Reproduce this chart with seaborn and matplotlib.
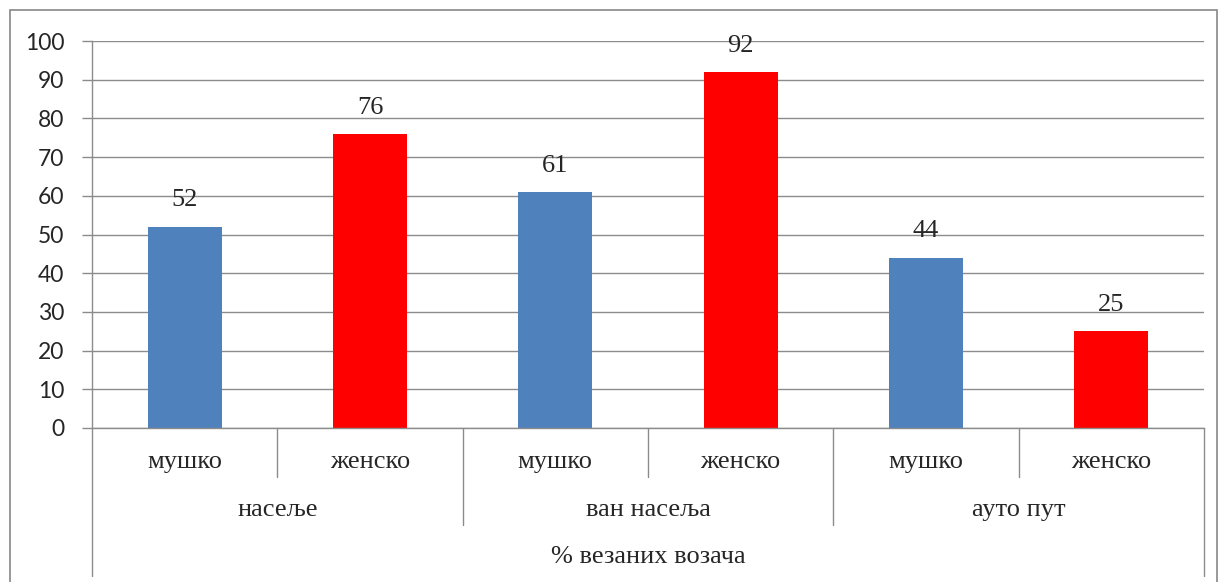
import numpy as np
import pandas as pd
import matplotlib
matplotlib.use("Agg")
import matplotlib.pyplot as plt
import seaborn as sns

# ─── Data ─────────────────────────────────────────────────────────────
groups = ["насеље", "ван насеља", "ауто пут"]
genders = ["мушко", "женско"]
values = [52, 76, 61, 92, 44, 25]
axis_title = "% везаних возача"
y_ticks = list(range(0, 101, 10))

COLORS = {"мушко": "#4F81BD", "женско": "#FF0000"}
GRID = "#8C8C8C"
SERIF = "Liberation Serif"
FS = 19

rows = []
for gi, g in enumerate(groups):
    for si, s in enumerate(genders):
        rows.append({"slot": f"{g}|{s}", "group": g, "gender": s,
                     "value": values[gi * len(genders) + si]})
df = pd.DataFrame(rows)
order = list(df["slot"])

sns.set_style("white")
plt.rcParams["font.family"] = ["Lato", "DejaVu Sans"]

fig = plt.figure(figsize=(12.2, 5.82), dpi=100)
W, H = 1220, 582
ax = fig.add_axes([92 / W, 1 - 428 / H, 1112 / W, 387 / H])

sns.barplot(data=df, x="slot", y="value", hue="gender", order=order,
            hue_order=genders, palette=COLORS, dodge=False, width=0.4,
            saturation=1, legend=False, linewidth=0, ax=ax)

# value labels above bars
for cont in ax.containers:
    ax.bar_label(cont, padding=11, fontsize=FS, family=SERIF)

ax.set_ylim(0, 100)
ax.set_xlim(-0.5, len(order) - 0.5)
ax.set_yticks(y_ticks)
ax.tick_params(axis="y", labelsize=16.5, length=7, color=GRID, width=1,
               direction="out", pad=13, left=True)
ax.set_xticks([])
ax.set_xlabel("")
ax.set_ylabel("")
ax.yaxis.grid(True, color=GRID, linewidth=1)
ax.set_axisbelow(True)
for side in ["top", "right"]:
    ax.spines[side].set_visible(False)
for side in ["left", "bottom"]:
    ax.spines[side].set_color(GRID)
    ax.spines[side].set_linewidth(1)

# ─── Multi-level category axis ────────────────────────────────────────
trans = ax.get_xaxis_transform()
px = 1 / 387  # one pixel in axes y units


def vline(x, y0, y1):
    ax.plot([x, x], [y0, y1], transform=trans, color=GRID, lw=1,
            clip_on=False)


n_sub = len(genders)
for i, slot in enumerate(order):
    ax.text(i, -34 * px, df["gender"][i], transform=trans, ha="center",
            va="center", fontsize=FS, family=SERIF)
for gi, g in enumerate(groups):
    mid = gi * n_sub + (n_sub - 1) / 2
    ax.text(mid, -82 * px, g, transform=trans, ha="center", va="center",
            fontsize=FS, family=SERIF)
    # separators between genders inside a group
    for k in range(1, n_sub):
        vline(gi * n_sub + k - 0.5, 0, -49 * px)
# separators between groups
for gi in range(len(groups) + 1):
    x = gi * n_sub - 0.5
    if gi in (0, len(groups)):
        vline(x, 0, -148 * px)
    else:
        vline(x, 0, -97 * px)
ax.text((len(order) - 1) / 2, -129 * px, axis_title, transform=trans,
        ha="center", va="center", fontsize=FS, family=SERIF)

# chart area border
fig.patches.append(plt.Rectangle((10 / W, -0.02), 1207 / W, 1 - 10 / H + 0.02,
                                 transform=fig.transFigure, fill=False,
                                 edgecolor="#888888", linewidth=1.2))

fig.savefig("out.png", dpi=100)
plt.close(fig)
